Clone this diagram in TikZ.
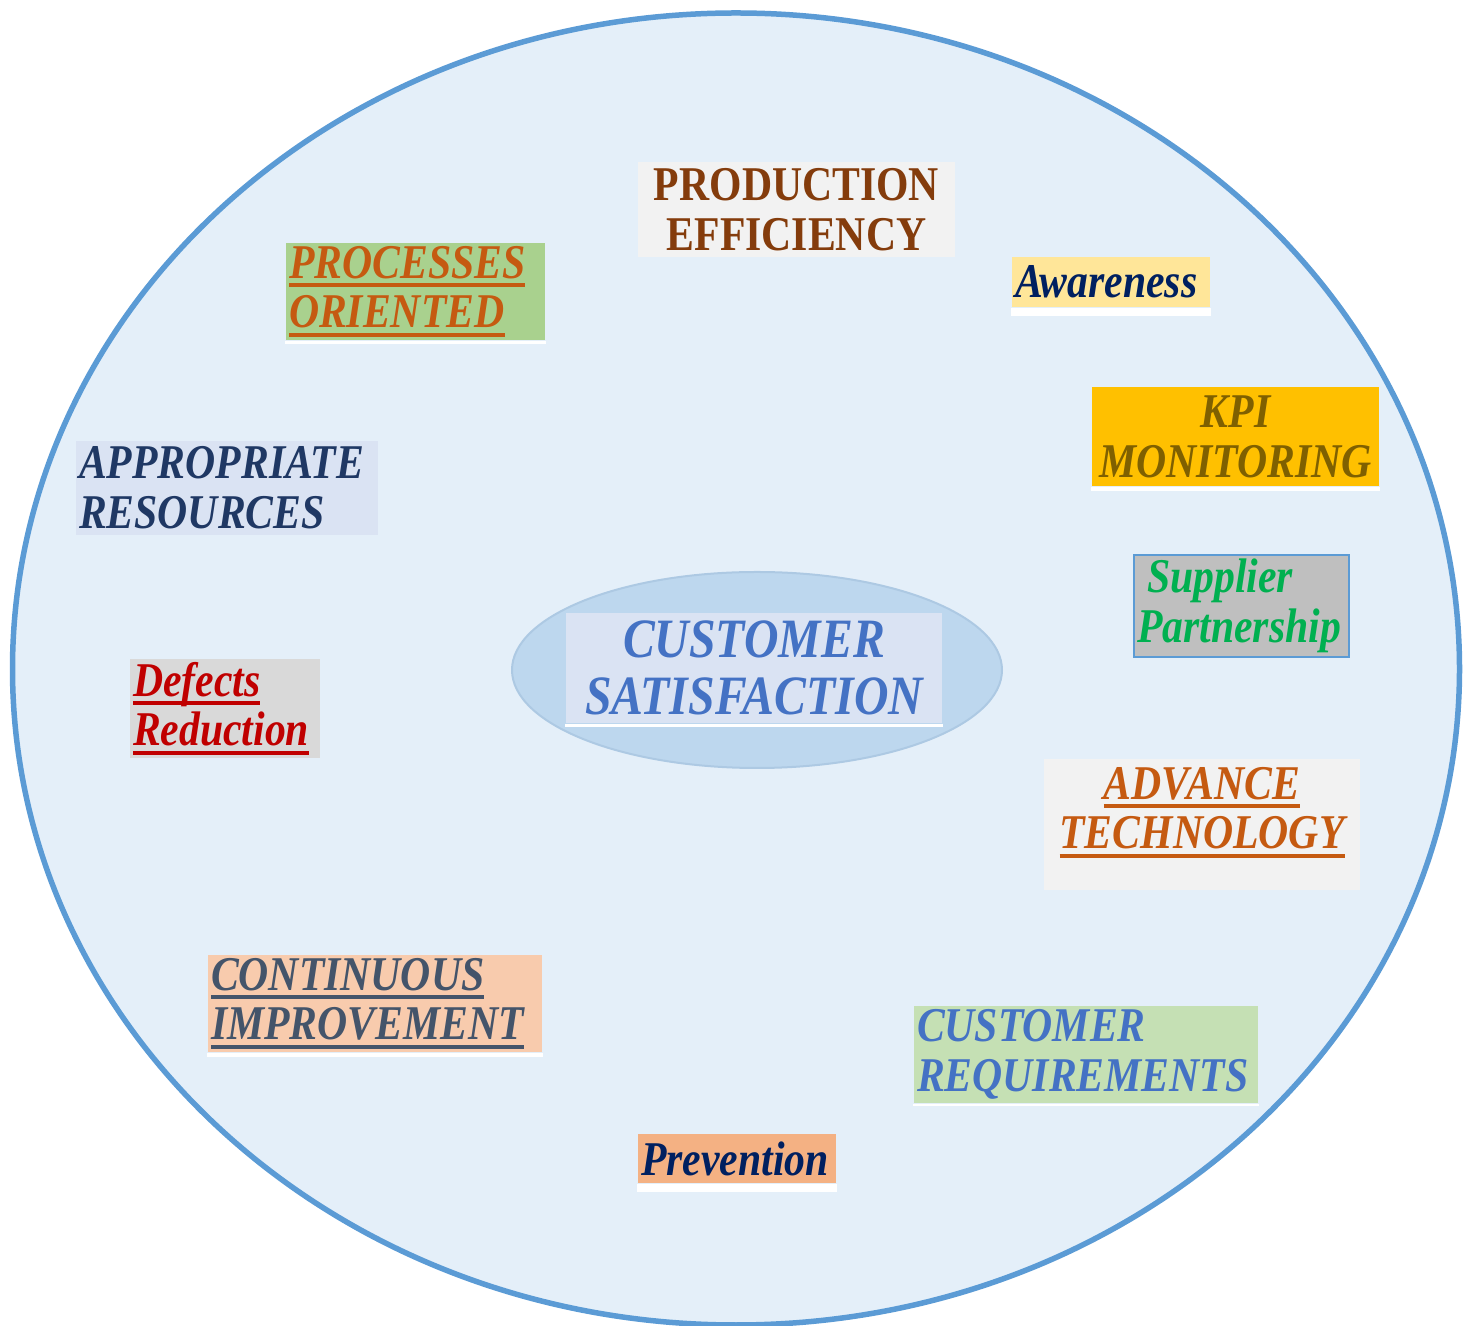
\documentclass[tikz,border=0pt]{standalone}
\usepackage{fontspec}
\setmainfont{Liberation Serif}[FakeStretch=0.86]
\usetikzlibrary{shapes.geometric}

\newsavebox{\ulbox}
\newcommand{\ulined}[1]{\leavevmode\sbox{\ulbox}{#1}\rlap{\rule[-2.6pt]{\wd\ulbox}{1.2pt}}\usebox{\ulbox}}

\definecolor{ringline}{HTML}{5B9BD5}
\definecolor{ringfill}{HTML}{E4EFF9}
\definecolor{hubfill}{HTML}{BDD7EE}
\definecolor{hubline}{HTML}{ADC9E3}
\definecolor{paleblue}{HTML}{DAE3F3}
\definecolor{midblue}{HTML}{4472C4}
\definecolor{navy}{HTML}{002060}
\definecolor{darkblue}{HTML}{1F3864}
\definecolor{slate}{HTML}{44546A}
\definecolor{rust}{HTML}{C55A11}
\definecolor{prodbrown}{HTML}{843C0C}
\definecolor{kpiolive}{HTML}{7F6000}
\definecolor{kelly}{HTML}{00B050}
\definecolor{crimson}{HTML}{C00000}
\definecolor{grayF2}{HTML}{F2F2F2}
\definecolor{grayD9}{HTML}{D9D9D9}
\definecolor{grayBF}{HTML}{BFBFBF}
\definecolor{leaf}{HTML}{A9D18E}
\definecolor{sage}{HTML}{C5E0B4}
\definecolor{butter}{HTML}{FFE699}
\definecolor{amber}{HTML}{FFC000}
\definecolor{peach}{HTML}{F8CBAD}
\definecolor{apricot}{HTML}{F4B183}

\begin{document}
\begin{tikzpicture}[
	tag/.style={inner xsep=0.03cm,inner ysep=0pt,font=\fontsize{13.8}{14.2}\selectfont\bfseries\itshape},
	lefttag/.style={tag,align=left,text width=#1},
	midtag/.style={tag,align=center,minimum width=#1},
	strip/.style={fill=white}
]
%\draw[help lines] (0,0) grid (14.69,-13.26);
	\useasboundingbox (0,0) rectangle (14.69,-13.26);
	\draw[ringline,line width=0.055cm,fill=ringfill] (7.36,-6.69) ellipse [x radius=7.235,y radius=6.56];

	\node[ellipse,fill=hubfill,draw=hubline,line width=0.02cm,minimum width=4.9cm,minimum height=1.96cm] (hub) at (7.57,-6.70) {};
	\node[midtag=3.76cm,fill=paleblue,text=midblue,minimum height=1.10cm,font=\fontsize{15.8}{16}\selectfont\bfseries\itshape] (sat) at (7.54,-6.68) {CUSTOMER\\SATISFACTION};
	\fill[strip] (sat.south west) rectangle ([yshift=-0.03cm]sat.south east);

	\node[midtag=3.17cm,fill=grayF2,text=prodbrown,minimum height=0.95cm,font=\fontsize{13.8}{14.2}\selectfont\bfseries] (prod) at (7.965,-2.095) {PRODUCTION\\EFFICIENCY};
	\node[lefttag=2.53cm,fill=leaf,text=rust,minimum height=0.97cm] (proc) at (4.155,-2.915) {\ulined{PROCESSES}\\\ulined{ORIENTED}};
	\fill[strip] (proc.south west) rectangle ([yshift=-0.03cm]proc.south east);
	\node[lefttag=1.92cm,fill=butter,text=navy,minimum height=0.50cm] (aware) at (11.11,-2.82) {Awareness};
	\fill[strip] (aware.south west) rectangle ([yshift=-0.08cm]aware.south east);
	\node[midtag=2.87cm,fill=amber,text=kpiolive,minimum height=0.99cm] (kpi) at (12.355,-4.365) {KPI\\MONITORING};
	\fill[strip] (kpi.south west) rectangle ([yshift=-0.04cm]kpi.south east);
	\node[lefttag=2.09cm,fill=grayBF,draw=ringline,line width=0.02cm,text=kelly,minimum height=1.02cm] (supp) at (12.415,-6.06) {\hspace*{0.1cm}Supplier\\Partnership};

	\node[lefttag=2.96cm,fill=paleblue,text=darkblue,minimum height=0.94cm] (appr) at (2.27,-4.88) {APPROPRIATE\\RESOURCES};
	\node[lefttag=1.84cm,fill=grayD9,text=crimson,minimum height=0.99cm] (defe) at (2.25,-7.085) {\ulined{Defects}\\\ulined{Reduction}};

	\node[tag,fill=grayF2,minimum width=3.16cm,minimum height=1.31cm] (adva) at (12.02,-8.245) {};
	\node[tag,align=center,text=rust] (tech) at ([yshift=0.12cm]adva.center) {\ulined{ADVANCE}\\\ulined{TECHNOLOGY}};

	\node[lefttag=3.28cm,fill=peach,text=slate,minimum height=0.97cm] (cont) at (3.75,-10.035) {\ulined{CONTINUOUS}\\\ulined{IMPROVEMENT}};
	\fill[strip] (cont.south west) rectangle ([yshift=-0.04cm]cont.south east);
	\node[lefttag=3.38cm,fill=sage,text=midblue,minimum height=0.97cm] (creq) at (10.86,-10.545) {CUSTOMER\\REQUIREMENTS};
	\fill[strip] (creq.south west) rectangle ([yshift=-0.02cm]creq.south east);
	\node[lefttag=1.92cm,fill=apricot,text=navy,minimum height=0.49cm] (prev) at (7.37,-11.585) {Prevention};
	\fill[strip] (prev.south west) rectangle ([yshift=-0.08cm]prev.south east);
\end{tikzpicture}
\end{document}
